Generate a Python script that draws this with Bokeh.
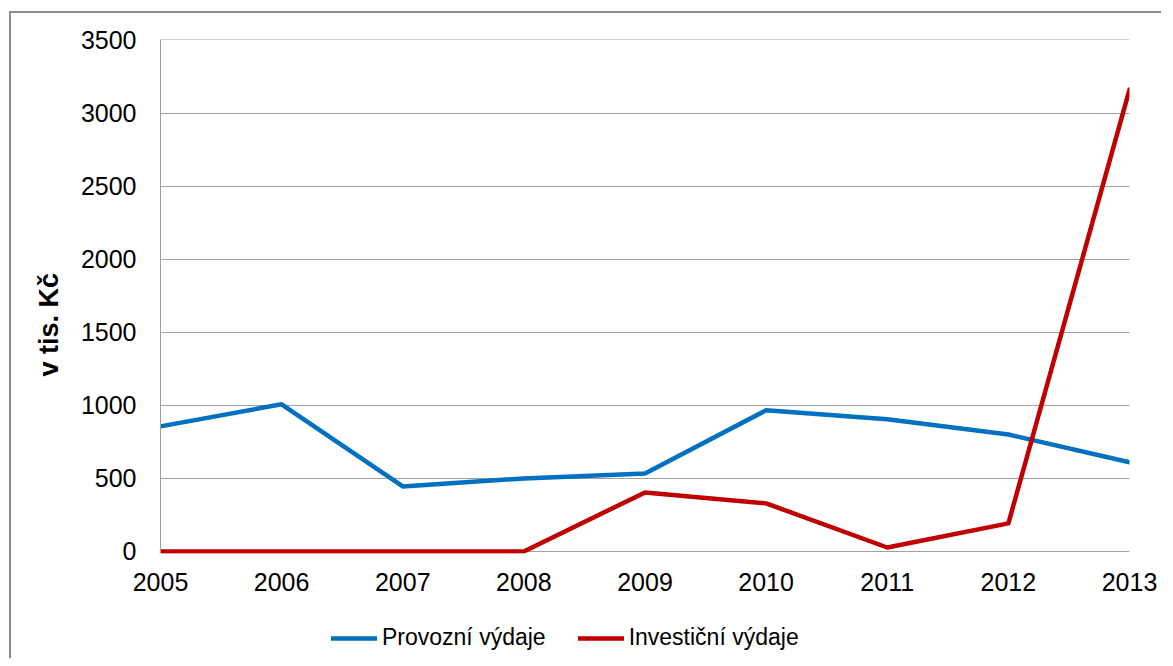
from bokeh.plotting import figure
from bokeh.layouts import column
from bokeh.models import ColumnDataSource, Range1d, Legend, LegendItem, Title, FixedTicker
from bokeh.embed import file_html
from bokeh.resources import INLINE

years = [2005, 2006, 2007, 2008, 2009, 2010, 2011, 2012, 2013]
provozni = [856, 1007, 445, 500, 534, 966, 904, 800, 610]
investicni = [0, 0, 0, 0, 404, 329, 27, 192, 3160]
y_ticks = [0, 500, 1000, 1500, 2000, 2500, 3000, 3500]
series_names = ["Provozní výdaje", "Investiční výdaje"]
y_label_text = "v tis. Kč"
colors = ["#0070C0", "#C00000"]

src = ColumnDataSource(dict(x=years, p=provozni, i=investicni))

p = figure(width=1150, height=600, output_backend="svg", toolbar_location=None,
           x_range=Range1d(years[0], years[-1]), y_range=Range1d(-14, 3503),
           min_border_left=149, min_border_right=32, min_border_top=26, min_border_bottom=60)
p.outline_line_color = None
p.background_fill_color = "white"
p.border_fill_color = "white"

grid_col = "#a0a0a0"
p.xgrid.grid_line_color = None
p.ygrid.grid_line_color = grid_col
p.ygrid.grid_line_width = 1
p.ygrid.ticker = FixedTicker(ticks=y_ticks)

p.yaxis.ticker = FixedTicker(ticks=y_ticks)
p.yaxis.bounds = (y_ticks[0], y_ticks[-1])
p.xaxis.ticker = FixedTicker(ticks=years)
for ax in (p.xaxis, p.yaxis):
    ax.major_tick_line_color = None
    ax.minor_tick_line_color = None
    ax.major_label_text_font = "Liberation Sans"
    ax.major_label_text_font_size = "25px"
    ax.major_label_text_color = "#000000"
p.yaxis.axis_line_color = grid_col
p.xaxis.axis_line_color = None
p.yaxis.major_label_standoff = 18
p.xaxis.major_label_standoff = 13

r1 = p.line("x", "p", source=src, line_color=colors[0], line_width=4.5, line_join="round", line_cap="round")
r2 = p.line("x", "i", source=src, line_color=colors[1], line_width=4.5, line_join="round", line_cap="round")

ylab = Title(text=y_label_text, align="left", offset=177, standoff=27,
             text_font="Liberation Sans", text_font_style="bold", text_font_size="27px",
             text_color="#000000")
p.add_layout(ylab, "left")

# legend strip below the chart
q = figure(width=1150, height=45, output_backend="svg", toolbar_location=None,
           x_range=Range1d(years[0], years[-1]), y_range=Range1d(-14, 3503),
           x_axis_type=None, y_axis_type=None,
           min_border_left=0, min_border_right=0, min_border_top=0, min_border_bottom=0)
q.outline_line_color = None
q.xgrid.visible = False
q.ygrid.visible = False
l1 = q.line("x", "p", source=src, line_color=colors[0], line_width=4.5, line_cap="round", visible=False)
l2 = q.line("x", "i", source=src, line_color=colors[1], line_width=4.5, line_cap="round", visible=False)

legend = Legend(items=[LegendItem(label=series_names[0], renderers=[l1]),
                       LegendItem(label=series_names[1], renderers=[l2])],
                orientation="horizontal", location=(171, 7),
                glyph_width=46, glyph_height=24, label_height=24, label_standoff=5,
                spacing=32, padding=0, margin=0, border_line_color=None,
                background_fill_alpha=0,
                label_text_font="Liberation Sans", label_text_font_size="23px",
                label_text_color="#000000")
q.add_layout(legend)

layout = column(p, q, spacing=0)
layout.styles = {"margin-top": "11px", "margin-left": "9px",
                 "border-top": "2px solid #8c8c8c", "border-left": "2px solid #8c8c8c"}

open("out.html", "w").write(file_html(layout, INLINE))
